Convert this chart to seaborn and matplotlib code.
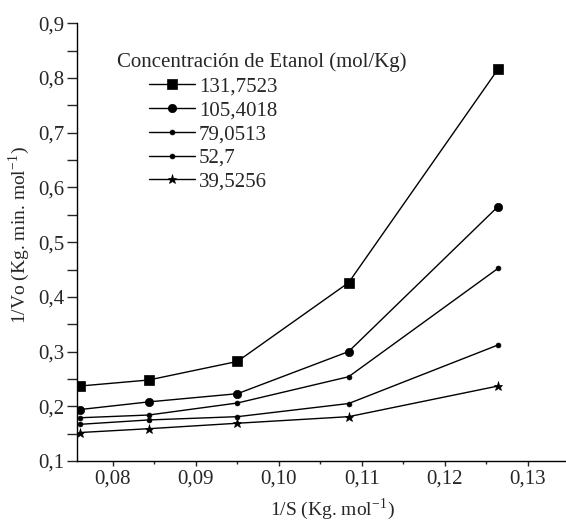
import matplotlib
matplotlib.use("Agg")
import matplotlib.pyplot as plt
import matplotlib.ticker as mticker
import seaborn as sns

# 1/S values (Kg. mol-1)
inv_s = [0.0760, 0.0843, 0.0950, 0.1084, 0.1264]

# 1/Vo for each ethanol concentration (mol/Kg)
conc_labels = ["131,7523", "105,4018", "79,0513", "52,7", "39,5256"]
vo_131 = [0.237, 0.248, 0.282, 0.426, 0.816]
vo_105 = [0.194, 0.208, 0.223, 0.300, 0.565]
vo_79 = [0.179, 0.184, 0.206, 0.254, 0.452]
vo_52 = [0.167, 0.175, 0.181, 0.205, 0.312]
vo_39 = [0.152, 0.159, 0.169, 0.181, 0.237]

series = [vo_131, vo_105, vo_79, vo_52, vo_39]
markers = ["s", "o", "o", "o", "*"]
msizes = [6.5, 6.0, 3.5, 3.5, 6.5]

sns.set_style("ticks")
plt.rcParams["font.family"] = ["Liberation Serif", "DejaVu Serif"]
plt.rcParams["mathtext.fontset"] = "stix"

fig = plt.figure(figsize=(5.66, 5.21), dpi=100)
ax = fig.add_axes([0.136, 0.1152, 0.864, 0.840])

for vals, lab, mk, ms in zip(series, conc_labels, markers, msizes):
    sns.lineplot(x=inv_s, y=vals, ax=ax, color="black", linewidth=1.0,
                 marker=mk, markersize=ms, markeredgewidth=0.5,
                 markeredgecolor="black", label=lab)

ax.set_xlim(0.07566, 0.1346)
ax.set_ylim(0.1, 0.9)
ax.xaxis.set_major_locator(mticker.MultipleLocator(0.01))
ax.xaxis.set_minor_locator(mticker.MultipleLocator(0.005))
ax.yaxis.set_major_locator(mticker.MultipleLocator(0.1))
ax.yaxis.set_minor_locator(mticker.MultipleLocator(0.05))
ax.xaxis.set_major_formatter(mticker.FuncFormatter(lambda v, p: f"{v:.2f}".replace(".", ",")))
ax.yaxis.set_major_formatter(mticker.FuncFormatter(lambda v, p: f"{v:.1f}".replace(".", ",")))

ax.tick_params(axis="x", which="major", length=3.5, width=1, labelsize=15, direction="out", pad=3)
ax.tick_params(axis="x", which="minor", length=2, width=1)
ax.tick_params(axis="y", which="both", length=7, width=1, labelsize=15, direction="out", pad=2)

for s in ["top", "right"]:
    ax.spines[s].set_visible(False)
for s in ["left", "bottom"]:
    ax.spines[s].set_linewidth(1.0)
    ax.spines[s].set_color("black")

ax.set_xlabel("1/S (Kg. mol$^{\\mathregular{-1}}$)", fontsize=14)
ax.set_ylabel("1/Vo (Kg. min. mol$^{\\mathregular{-1}}$)", fontsize=14)
ax.xaxis.set_label_coords(0.523, -0.082)
ax.yaxis.set_label_coords(-0.092, 0.516)

ax.text(0.082, 0.912, "Concentración de Etanol (mol/Kg)", transform=ax.transAxes,
        fontsize=15, ha="left", va="center")
ax.legend(loc="upper left", bbox_to_anchor=(0.147, 0.877), frameon=False,
          fontsize=15, handlelength=2.2, handletextpad=0.2,
          labelspacing=0.2, borderpad=0, borderaxespad=0)

fig.savefig("out.png", dpi=100)
